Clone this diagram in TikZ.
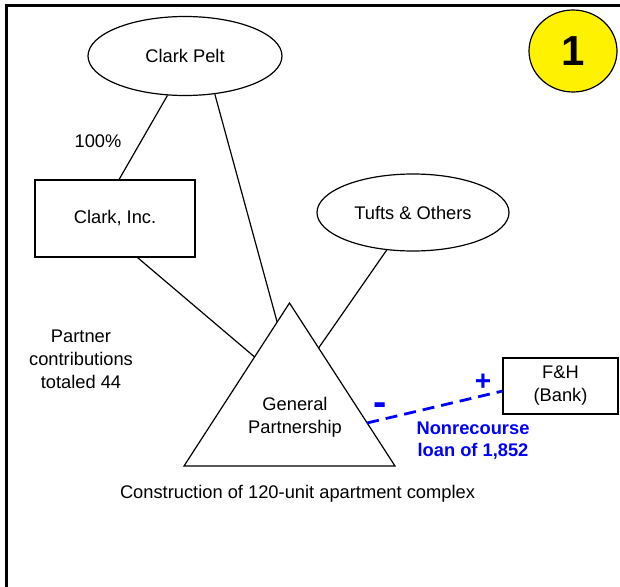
\documentclass[tikz,border=0pt]{standalone}
\usepackage{fontspec}
\setmainfont{Liberation Sans}
\usetikzlibrary{shapes.geometric,calc}

\begin{document}
\begin{tikzpicture}[
  x=1pt, y=-1pt,
  every node/.style={font=\fontsize{18.3}{23}\selectfont, align=center},
  own/.style={draw, line width=1.2pt, ellipse, minimum width=194pt,
              minimum height=79pt, inner sep=0pt},
  ent/.style={draw, line width=1.2pt, rectangle, minimum width=160pt,
              minimum height=77pt, inner sep=0pt},
  bnk/.style={draw, line width=1.2pt, rectangle, minimum width=115pt,
              minimum height=56pt, inner sep=0pt},
  num/.style={draw, line width=1.2pt, ellipse, fill=yellow, minimum width=88pt,
              minimum height=82pt, inner sep=0pt, font=\fontsize{42}{42}\selectfont\bfseries},
  lnk/.style={line width=1.2pt},
  loan/.style={draw=blue, line width=2.8pt, dash pattern=on 12pt off 7pt},
  blu/.style={text=blue, font=\fontsize{18.3}{22.5}\selectfont\bfseries},
  sgn/.style={text=blue, inner sep=0pt}
]
\useasboundingbox (0,0) rectangle (620,586);
\clip (0,0) rectangle (620,586);
\draw[line width=3pt] (6.5,5.5) rectangle (650,620);

\node[own] (pelt) at (185,56) {Clark Pelt};
\node[ent] (inc) at (115,218.5) {Clark, Inc.};
\node[own, minimum width=192pt, minimum height=77pt] (tufts) at (413,212.5) {Tufts \& Others};
\node[bnk] (bank) at (560.5,386) {F\&H\\(Bank)};
\node[num] (one) at (573,51) {1};

\coordinate (apex) at (289.5,303);
\coordinate (bl) at (184,466);
\coordinate (br) at (395,466);
\draw[lnk] (apex) -- (bl) -- (br) -- cycle;
\node (gp) at (295,417.5) {General\\Partnership};

\coordinate (gpa) at ($(apex)!0.117!(bl)$);
\coordinate (gpb) at ($(apex)!0.331!(bl)$);
\coordinate (gpc) at ($(apex)!0.276!(br)$);
\coordinate (gpd) at ($(apex)!0.736!(br)$);

\draw[lnk] (pelt.246) -- (inc.84);
\draw[lnk] (pelt.308) -- (gpa);
\draw[lnk] (inc.300) -- (gpb);
\draw[lnk] (tufts.235) -- (gpc);
\draw[loan] (gpd) -- (bank.185);

\node (pct) at (98,141) {100\%};
\node (contrib) at (81,359) {Partner\\contributions\\totaled 44};
\node (proj) at (297.5,494) {Construction of 120-unit apartment complex};
\node[blu] (amt) at (473,440.5) {Nonrecourse\\loan of 1,852};
\node[sgn, font=\fontsize{28}{28}\selectfont\bfseries] (plus) at (483,382) {+};
\node[sgn, font=\fontsize{40}{40}\selectfont\bfseries] (minus) at (380,409) {-};
\end{tikzpicture}
\end{document}
